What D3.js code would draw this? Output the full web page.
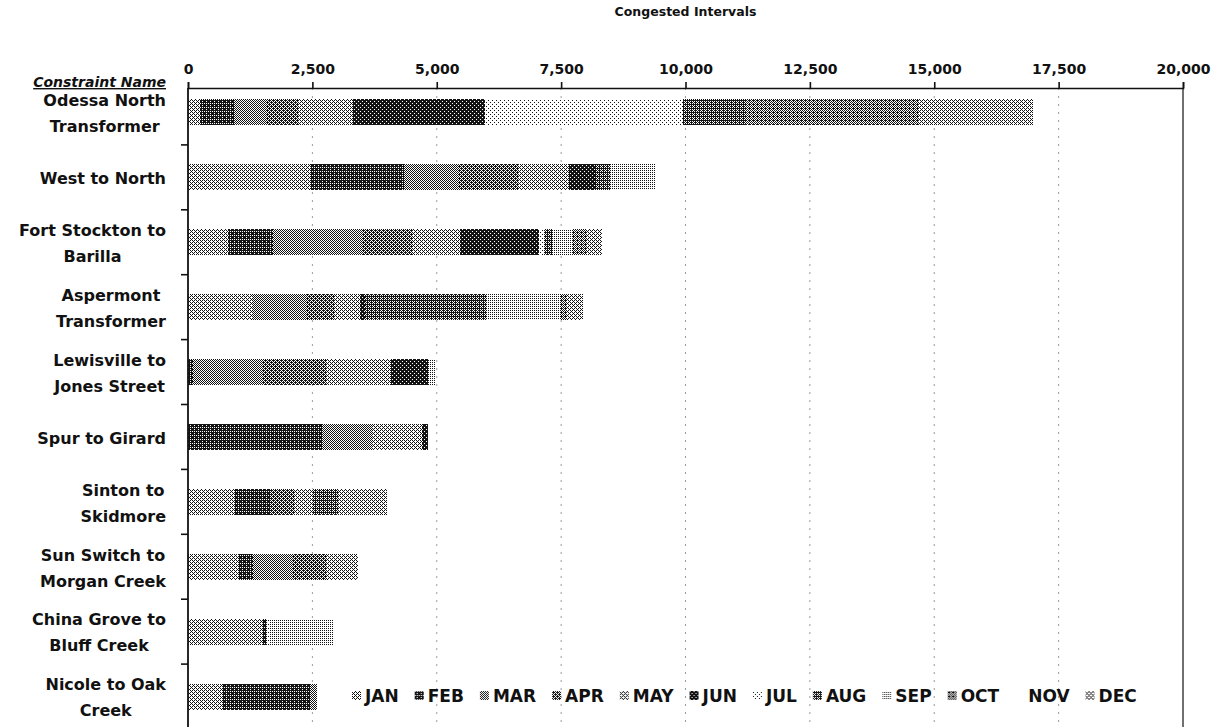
<!DOCTYPE html>
<html>
<head>
<meta charset="utf-8">
<script src="https://cdn.jsdelivr.net/npm/d3@7"></script>
<style>
  body { margin: 0; background: #fff; }
  svg text { font-family: "DejaVu Sans", "Open Sans", sans-serif; font-weight: bold; fill: #111; }
</style>
</head>
<body>
<svg id="chart" width="1225" height="727"></svg>
<script>
// Constraints, top to bottom ("\n" marks where the label wraps)
const constraints = [
  "Odessa North\nTransformer",
  "West to North",
  "Fort Stockton to\nBarilla",
  "Aspermont\nTransformer",
  "Lewisville to\nJones Street",
  "Spur to Girard",
  "Sinton to\nSkidmore",
  "Sun Switch to\nMorgan Creek",
  "China Grove to\nBluff Creek",
  "Nicole to Oak\nCreek"
];

const months = ["JAN", "FEB", "MAR", "APR", "MAY", "JUN", "JUL", "AUG", "SEP", "OCT", "NOV", "DEC"];

// Congested intervals per month, one value per constraint (same order as above)
const jan = [240, 2480, 800, 1300, 0, 0, 950, 1000, 1490, 680];
const feb = [700, 1870, 900, 0, 100, 2700, 700, 300, 100, 1800];
const mar = [650, 1100, 1800, 1100, 1400, 1000, 0, 800, 0, 120];
const apr = [650, 1200, 1000, 560, 1300, 0, 500, 690, 0, 0];
const may = [1070, 1000, 960, 500, 1280, 1010, 340, 620, 0, 0];
const jun = [2650, 560, 1600, 100, 740, 120, 0, 0, 0, 0];
const jul = [3980, 0, 100, 0, 0, 0, 0, 0, 60, 0];
const aug = [1290, 300, 150, 2450, 0, 0, 520, 0, 0, 0];
const sep = [0, 900, 400, 1470, 140, 0, 0, 0, 1270, 0];
const oct = [3440, 0, 300, 140, 0, 0, 0, 0, 0, 0];
const nov = [0, 0, 0, 0, 0, 0, 0, 0, 0, 0];
const dec = [2310, 0, 310, 320, 0, 0, 985, 0, 0, 0];

const xTicks = [0, 2500, 5000, 7500, 10000, 12500, 15000, 17500, 20000];

// Halftone density of each month's fill (share of dark dots)
const monthShade = {
  JAN: 0.40, FEB: 0.80, MAR: 0.50, APR: 0.62, MAY: 0.38, JUN: 0.88,
  JUL: 0.12, AUG: 0.68, SEP: 0.28, OCT: 0.56, NOV: 0.0, DEC: 0.38
};

const seriesByMonth = [jan, feb, mar, apr, may, jun, jul, aug, sep, oct, nov, dec];
const table = constraints.map((c, i) => {
  const row = { name: c };
  months.forEach((m, j) => { row[m] = seriesByMonth[j][i]; });
  return row;
});

const svg = d3.select("#chart");

// Ordered-dither patterns
const bayer = [[0, 8, 2, 10], [12, 4, 14, 6], [3, 11, 1, 9], [15, 7, 13, 5]];
const defs = svg.append("defs");
months.forEach(m => {
  const p = defs.append("pattern")
    .attr("id", "pat-" + m)
    .attr("patternUnits", "userSpaceOnUse")
    .attr("width", 4).attr("height", 4);
  p.append("rect").attr("width", 4).attr("height", 4).attr("fill", "#fff");
  const thr = Math.round(monthShade[m] * 16);
  for (let r = 0; r < 4; r++) {
    for (let c = 0; c < 4; c++) {
      if (bayer[r][c] < thr) {
        p.append("rect").attr("x", c).attr("y", r).attr("width", 1).attr("height", 1)
          .attr("fill", "#141414").attr("shape-rendering", "crispEdges");
      }
    }
  }
});

const plotLeft = 188, plotRight = 1183, plotTop = 80, plotBottom = 729;
const axisY = 88;

const x = d3.scaleLinear().domain([0, 20000]).range([plotLeft, plotRight]);
const y = d3.scaleBand().domain(constraints).range([plotTop, plotBottom]).paddingInner(0.6).paddingOuter(0.3);

// Dotted vertical gridlines
svg.append("g")
  .selectAll("line")
  .data(xTicks.slice(1, -1))
  .join("line")
  .attr("x1", d => x(d)).attr("x2", d => x(d))
  .attr("y1", axisY).attr("y2", 727)
  .attr("stroke", "#9a9a9a").attr("stroke-width", 1)
  .attr("stroke-dasharray", "2,6");

// Stacked bars
const stack = d3.stack().keys(months)(table);
svg.append("g")
  .selectAll("g")
  .data(stack)
  .join("g")
  .attr("fill", d => `url(#pat-${d.key})`)
  .selectAll("rect")
  .data(d => d)
  .join("rect")
  .attr("x", d => x(d[0]))
  .attr("width", d => x(d[1]) - x(d[0]))
  .attr("y", d => y(d.data.name))
  .attr("height", y.bandwidth())
  .attr("shape-rendering", "crispEdges");

// Top value axis
const xAxis = svg.append("g")
  .attr("transform", `translate(0,${axisY})`)
  .call(d3.axisTop(x).tickValues(xTicks).tickFormat(d3.format(",")).tickSize(6).tickPadding(8));
xAxis.select(".domain").attr("stroke", "#111").attr("stroke-width", 1.6);
xAxis.selectAll(".tick line").attr("stroke", "#111").attr("stroke-width", 1.6);
xAxis.selectAll(".tick text").style("font-size", "14px").attr("fill", "#111");

// Left category axis line and separators, right frame line
svg.append("line").attr("x1", plotLeft).attr("x2", plotLeft).attr("y1", axisY).attr("y2", 727)
  .attr("stroke", "#111").attr("stroke-width", 1.8);
svg.append("line").attr("x1", plotRight).attr("x2", plotRight).attr("y1", axisY).attr("y2", 727)
  .attr("stroke", "#111").attr("stroke-width", 1.2);
svg.append("g")
  .selectAll("line")
  .data(constraints.slice(1))
  .join("line")
  .attr("x1", plotLeft - 7).attr("x2", plotLeft)
  .attr("y1", d => y(d) - y.step() * y.paddingInner() / 2)
  .attr("y2", d => y(d) - y.step() * y.paddingInner() / 2)
  .attr("stroke", "#111").attr("stroke-width", 1.6);

// Category labels: lines centred on each other, block right-aligned
const labelRight = 166, lineH = 26;
constraints.forEach(c => {
  const lines = c.split("\n");
  const cy = y(c) + y.bandwidth() / 2 + 1;
  const g = svg.append("g");
  const texts = lines.map((ln, i) => g.append("text")
    .attr("y", cy + (i - (lines.length - 1) / 2) * lineH)
    .attr("dy", "0.36em")
    .attr("text-anchor", "middle")
    .style("font-size", "16px")
    .text(ln));
  const w = d3.max(texts, t => t.node().getComputedTextLength());
  texts.forEach(t => t.attr("x", labelRight - w / 2));
});

// Axis titles
svg.append("text")
  .attr("x", (plotLeft + plotRight) / 2).attr("y", 16)
  .attr("text-anchor", "middle")
  .style("font-size", "12.5px")
  .text("Congested Intervals");

svg.append("text")
  .attr("x", labelRight).attr("y", axisY - 1)
  .attr("text-anchor", "end")
  .style("font-size", "14px").style("font-style", "italic")
  .attr("text-decoration", "underline")
  .text("Constraint Name");

// Legend along the bottom
const legend = svg.append("g").attr("transform", "translate(352,696)");
let lx = 0;
months.forEach(m => {
  const item = legend.append("g").attr("transform", `translate(${lx},0)`);
  item.append("rect").attr("x", 0).attr("y", -5).attr("width", 9).attr("height", 9)
    .attr("fill", `url(#pat-${m})`);
  const t = item.append("text").attr("x", 13).attr("dy", "0.36em")
    .style("font-size", "17px").text(m);
  lx += 13 + t.node().getComputedTextLength() + 16;
});
</script>
</body>
</html>
